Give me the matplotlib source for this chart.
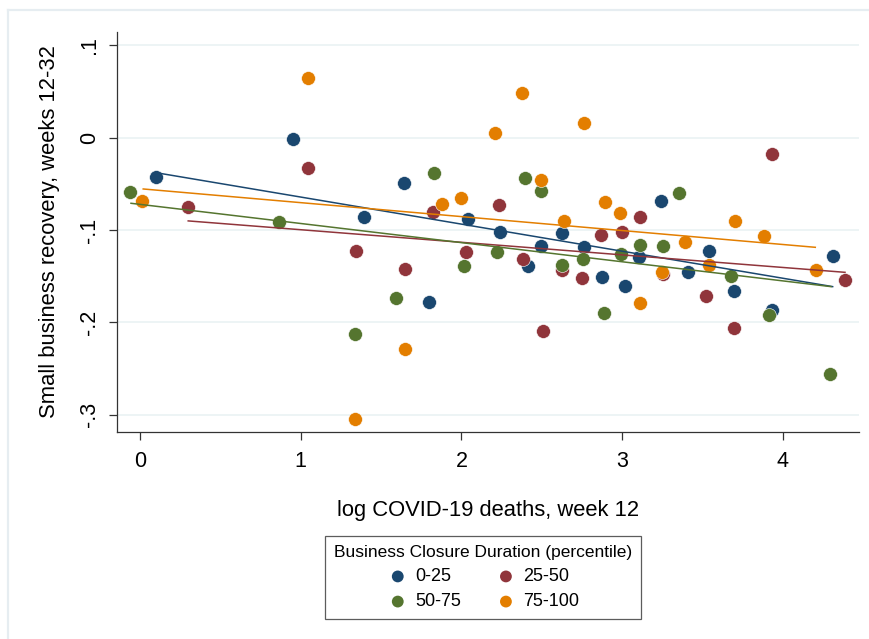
import numpy as np
import matplotlib
matplotlib.use('Agg')
import matplotlib.pyplot as plt
from matplotlib.lines import Line2D

plt.rcParams['font.family'] = ['Liberation Sans', 'DejaVu Sans']

# log COVID-19 deaths (x) and small business recovery (y), by closure group
x_025 = [0.098, 0.954, 1.394, 1.645, 1.800, 2.039, 2.242, 2.416, 2.493, 2.628,
         2.763, 2.875, 3.016, 3.103, 3.244, 3.410, 3.539, 3.696, 3.931, 4.314]
y_025 = [-0.043, -0.001, -0.086, -0.049, -0.178, -0.088, -0.102, -0.139, -0.117, -0.103,
         -0.119, -0.151, -0.161, -0.129, -0.069, -0.146, -0.123, -0.166, -0.187, -0.128]

x_2550 = [0.299, 1.044, 1.344, 1.649, 1.821, 2.027, 2.234, 2.385, 2.508, 2.626,
          2.750, 2.871, 2.997, 3.109, 3.256, 3.522, 3.696, 3.935, 4.387]
y_2550 = [-0.075, -0.0325, -0.123, -0.142, -0.081, -0.124, -0.073, -0.131, -0.209, -0.143,
          -0.152, -0.106, -0.1025, -0.086, -0.148, -0.172, -0.2065, -0.018, -0.154]

x_5075 = [-0.060, 0.865, 1.336, 1.595, 1.831, 2.016, 2.223, 2.394, 2.497, 2.626,
          2.759, 2.885, 2.993, 3.112, 3.256, 3.354, 3.676, 3.914, 4.292]
y_5075 = [-0.059, -0.091, -0.213, -0.174, -0.038, -0.139, -0.1235, -0.044, -0.058, -0.138,
          -0.131, -0.190, -0.126, -0.116, -0.117, -0.060, -0.150, -0.192, -0.256]

x_75100 = [0.014, 1.044, 1.336, 1.651, 1.879, 1.997, 2.211, 2.379, 2.495, 2.638,
           2.761, 2.895, 2.989, 3.113, 3.250, 3.390, 3.543, 3.703, 3.883, 4.207]
y_75100 = [-0.069, 0.065, -0.305, -0.229, -0.0715, -0.065, 0.005, 0.048, -0.046, -0.090,
           0.016, -0.070, -0.082, -0.179, -0.146, -0.113, -0.138, -0.090, -0.107, -0.143]

# linear fit lines: (x start, x end), (y start, y end)
fit_x = [(0.098, 4.310), (0.300, 4.387), (-0.056, 4.300), (0.020, 4.202)]
fit_y = [(-0.0379, -0.1614), (-0.0902, -0.1459), (-0.0711, -0.1614), (-0.0556, -0.1188)]

groups = ['0-25', '25-50', '50-75', '75-100']
colors = ['#1a476f', '#90353b', '#55752f', '#e37e00']
xs = [x_025, x_2550, x_5075, x_75100]
ys = [y_025, y_2550, y_5075, y_75100]

fig = plt.figure(figsize=(8.7, 6.39), dpi=100)
# light outer frame (only top and left edges are inside the picture)
fig.lines.append(Line2D([8 / 870, 1.0], [1 - 10 / 639] * 2, transform=fig.transFigure,
                        color='#e6edf1', lw=1.6))
fig.lines.append(Line2D([8 / 870] * 2, [0, 1 - 10 / 639], transform=fig.transFigure,
                        color='#e6edf1', lw=1.6))

ax = fig.add_axes([116.7 / 870, 1 - 432 / 639, (859 - 116.7) / 870, (432 - 31.7) / 639])

handles = []
for g, c, xv, yv in zip(groups, colors, xs, ys):
    h = ax.scatter(xv, yv, s=100, color=c, edgecolors='white', linewidths=0.4, zorder=3, label=g)
    handles.append(h)

for c, fx, fy in zip(colors, fit_x, fit_y):
    ax.plot(fx, fy, color=c, lw=1.1, zorder=4)

ax.set_xlim(-0.145, 4.474)
ax.set_ylim(-0.3189, 0.1148)
ax.set_xticks([0, 1, 2, 3, 4])
ax.set_yticks([0.1, 0, -0.1, -0.2, -0.3])
ax.set_yticklabels(['.1', '0', '-.1', '-.2', '-.3'], rotation=90, va='center')
ax.tick_params(axis='both', labelsize=15.5, length=6, width=0.9, color='#333333', pad=6)
ax.tick_params(axis='x', pad=8)

for s in ['top', 'right']:
    ax.spines[s].set_visible(False)
for s in ['left', 'bottom']:
    ax.spines[s].set_color('#333333')
    ax.spines[s].set_linewidth(0.9)

ax.yaxis.grid(True, color='#eaf2f3', linewidth=1.2)
ax.set_axisbelow(True)

ax.set_xlabel('log COVID-19 deaths, week 12', fontsize=15.8, labelpad=20)
ax.set_ylabel('Small business recovery, weeks 12-32', fontsize=15.8, labelpad=14)

# matplotlib fills legend columns first; this order gives rows 0-25/25-50, 50-75/75-100
order = [0, 2, 1, 3]
leg = fig.legend(handles=[handles[i] for i in order], labels=[groups[i] for i in order],
                 ncol=2, loc='upper center', bbox_to_anchor=(483 / 870, 1 - 527 / 639),
                 title='Business Closure Duration (percentile)', fontsize=13,
                 title_fontsize=12.5, frameon=True, fancybox=False, edgecolor='#333333',
                 markerscale=0.85, handletextpad=0.35, columnspacing=1.9,
                 borderpad=0.5, labelspacing=0.45, handlelength=1.2)
leg.get_frame().set_linewidth(0.9)
for h in leg.legend_handles:
    h.set_edgecolor('none')

fig.savefig('out.png', dpi=100)
